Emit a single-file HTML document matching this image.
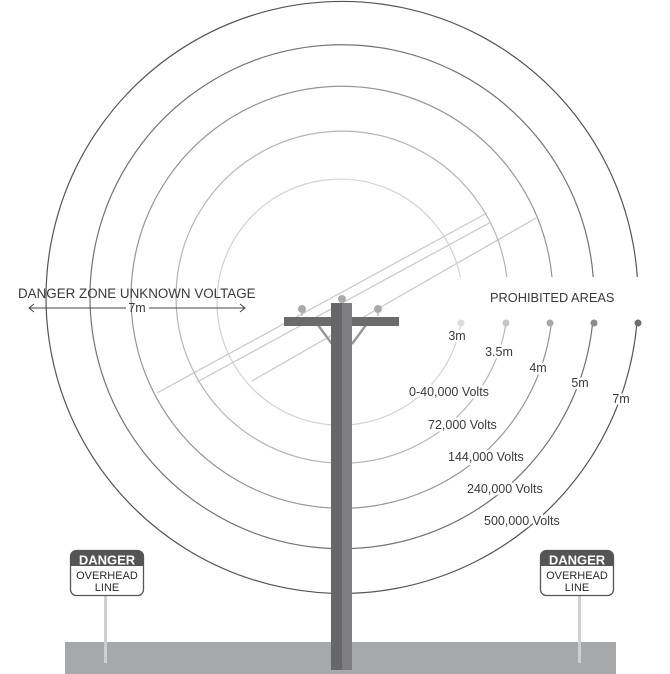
<!DOCTYPE html>
<html><head><meta charset="utf-8"><style>
html,body{margin:0;padding:0;background:#fff;}
svg{display:block;}
text{font-family:"Liberation Sans",sans-serif;}
.h{paint-order:stroke;stroke:#fff;stroke-width:5px;stroke-linejoin:round;}
.n{font-family:'Liberation Sans Narrow','Liberation Sans',sans-serif;}
</style></head><body>
<svg width="670" height="674" viewBox="0 0 670 674" xmlns="http://www.w3.org/2000/svg">
<g stroke="#c8c8c8" stroke-width="1.2" fill="none">
<line x1="157" y1="393" x2="487" y2="213"/>
<line x1="197" y1="382" x2="491" y2="222"/>
<line x1="252" y1="381" x2="536" y2="218"/>
</g>
<g fill="none" stroke-width="1.2">
<path d="M 460.4 277 A 123 123 0 1 0 461.2 323" stroke="#d2d2d2"/>
<path d="M 506.8 277 A 166 166 0 1 0 506 323" stroke="#b5b5b5"/>
<path d="M 552 277 A 211 211 0 1 0 551.4 323" stroke="#959595"/>
<path d="M 593.2 277 A 252 252 0 1 0 592.6 323" stroke="#737373"/>
<path d="M 637.3 277 A 296 296 0 1 0 636.9 323" stroke="#555"/>
</g>
<circle cx="461" cy="323" r="3.5" fill="#dcdcdc"/>
<circle cx="506" cy="323" r="3.5" fill="#c4c4c4"/>
<circle cx="550" cy="323" r="3.5" fill="#a8a8a8"/>
<circle cx="594" cy="323" r="3.5" fill="#8a8a8a"/>
<circle cx="638" cy="323" r="3.5" fill="#6e6e6e"/>
<g font-size="12.5" fill="#3a3a3a">
<text x="18" y="298" font-size="13.4">DANGER ZONE UNKNOWN VOLTAGE</text>
<text x="490" y="302" font-size="12.8">PROHIBITED AREAS</text>
<text class="h" x="457" y="340" text-anchor="middle">3m</text>
<text class="h" x="499" y="356" text-anchor="middle">3.5m</text>
<text class="h" x="538" y="372" text-anchor="middle">4m</text>
<text class="h" x="580" y="387" text-anchor="middle">5m</text>
<text class="h" x="621" y="403" text-anchor="middle">7m</text>
<text class="h" x="409" y="396">0-40,000 Volts</text>
<text class="h" x="428" y="429">72,000 Volts</text>
<text class="h" x="448" y="461">144,000 Volts</text>
<text class="h" x="467" y="493">240,000 Volts</text>
<text class="h" x="484" y="525">500,000 Volts</text>
</g>
<g stroke="#444" stroke-width="1" fill="none">
<line x1="29" y1="308" x2="126" y2="308"/>
<line x1="149" y1="308" x2="245" y2="308"/>
<polyline points="34,304 29,308 34,312"/>
<polyline points="240,304 245,308 240,312"/>
</g>
<text x="137" y="312" font-size="12.5" fill="#3a3a3a" text-anchor="middle">7m</text>
<rect x="65" y="642" width="551" height="32" fill="#a7a8aa"/>
<g stroke="#999" stroke-width="2.5">
<line x1="318" y1="325" x2="332" y2="344"/>
<line x1="366" y1="325" x2="352" y2="344"/>
</g>
<line x1="302" y1="308" x2="302" y2="316" stroke="#aaa" stroke-width="1.2"/>
<line x1="378" y1="308" x2="378" y2="316" stroke="#aaa" stroke-width="1.2"/>
<line x1="342" y1="296" x2="342" y2="303" stroke="#aaa" stroke-width="1.2"/>
<circle cx="302" cy="309" r="4" fill="#aaa"/>
<circle cx="378" cy="309" r="4" fill="#aaa"/>
<circle cx="342" cy="299" r="4" fill="#aaa"/>
<rect x="284" y="317" width="115" height="9" fill="#6b6b6d"/>
<rect x="331" y="303" width="11" height="367" fill="#67676a"/>
<rect x="342" y="303" width="10" height="367" fill="#7e7e81"/>
<g>
<rect x="104" y="595" width="3" height="68" fill="#cfcfcf"/>
<rect x="70.5" y="550.5" width="73" height="45" rx="6" fill="#fff" stroke="#555" stroke-width="1.3"/>
<path d="M70.5 566 V556.5 a6 6 0 0 1 6 -6 H137.5 a6 6 0 0 1 6 6 V566 Z" fill="#555"/>
<text class="n" x="107" y="564.5" font-size="13" font-weight="bold" fill="#fff" text-anchor="middle">DANGER</text>
<text class="n" x="107" y="579" font-size="11" fill="#2a2a2a" text-anchor="middle">OVERHEAD</text>
<text class="n" x="107" y="591" font-size="11" fill="#2a2a2a" text-anchor="middle">LINE</text>
</g>
<g>
<rect x="578" y="595" width="3" height="68" fill="#cfcfcf"/>
<rect x="540.5" y="550.5" width="73" height="45" rx="6" fill="#fff" stroke="#555" stroke-width="1.3"/>
<path d="M540.5 566 V556.5 a6 6 0 0 1 6 -6 H607.5 a6 6 0 0 1 6 6 V566 Z" fill="#555"/>
<text class="n" x="577" y="564.5" font-size="13" font-weight="bold" fill="#fff" text-anchor="middle">DANGER</text>
<text class="n" x="577" y="579" font-size="11" fill="#2a2a2a" text-anchor="middle">OVERHEAD</text>
<text class="n" x="577" y="591" font-size="11" fill="#2a2a2a" text-anchor="middle">LINE</text>
</g>
</svg>
</body></html>
